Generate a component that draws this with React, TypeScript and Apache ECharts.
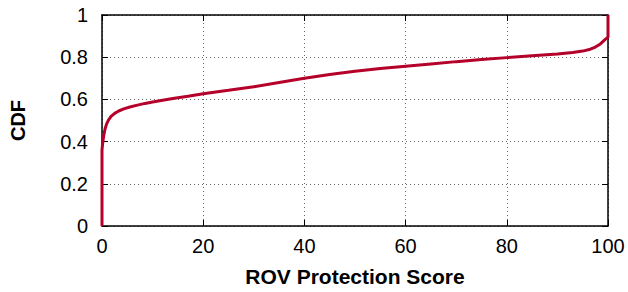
import React, { useEffect, useRef } from "react";
import * as echarts from "echarts";

const scores = [0, 0, 0.1, 0.2, 0.35, 0.6, 0.9, 1.3, 1.8, 2.5, 3.3, 4.3, 5.5, 7, 8.5, 10, 12, 14, 17, 20, 25, 30, 35, 40, 45, 50, 55, 60, 65, 70, 75, 80, 85, 90, 93, 95, 96.5, 97.5, 98.5, 99.4, 100, 100];
const cdf = [0, 0.36, 0.385, 0.405, 0.43, 0.46, 0.483, 0.503, 0.52, 0.534, 0.545, 0.555, 0.564, 0.573, 0.581, 0.588, 0.596, 0.604, 0.615, 0.627, 0.643, 0.66, 0.68, 0.7, 0.718, 0.733, 0.746, 0.757, 0.768, 0.779, 0.789, 0.798, 0.807, 0.815, 0.822, 0.829, 0.838, 0.848, 0.863, 0.883, 0.895, 1];
const xTicks = [0, 20, 40, 60, 80, 100];
const yTicks = [0, 0.2, 0.4, 0.6, 0.8, 1];

export default function App() {
  const ref = useRef<HTMLDivElement>(null);
  useEffect(() => {
    if (!ref.current) return;
    const chart = echarts.init(ref.current, null, { renderer: "svg" });
    const font = "'Liberation Sans', Arial, Helvetica, sans-serif";
    const gridLine = { show: true, lineStyle: { color: "#666", width: 1, type: [1, 3] as any } };
    const axisLine = { show: true, onZero: false, lineStyle: { color: "#000", width: 1.5 } };
    const tick = { show: true, inside: true, length: 6, lineStyle: { color: "#000", width: 1 } };
    chart.setOption({
      animation: false,
      grid: { left: 102, right: 20, top: 15, bottom: 64 },
      xAxis: [
        {
          type: "value",
          min: xTicks[0],
          max: xTicks[xTicks.length - 1],
          interval: 20,
          axisLine,
          axisTick: tick,
          splitLine: gridLine,
          axisLabel: { color: "#000", fontSize: 20, fontFamily: font, margin: 10 },
          name: "ROV Protection Score",
          nameLocation: "middle",
          nameGap: 40,
          nameTextStyle: { color: "#000", fontSize: 21, fontWeight: "bold", fontFamily: font },
        },
        {
          type: "value",
          position: "top",
          min: xTicks[0],
          max: xTicks[xTicks.length - 1],
          interval: 20,
          axisLine,
          axisTick: tick,
          splitLine: { show: false },
          axisLabel: { show: false },
        },
      ],
      yAxis: [
        {
          type: "value",
          min: yTicks[0],
          max: yTicks[yTicks.length - 1],
          interval: 0.2,
          axisLine,
          axisTick: tick,
          splitLine: gridLine,
          axisLabel: { color: "#000", fontSize: 20, fontFamily: font, margin: 14 },
          name: "CDF",
          nameLocation: "middle",
          nameGap: 74,
          nameTextStyle: { color: "#000", fontSize: 20, fontWeight: "bold", fontFamily: font },
        },
        {
          type: "value",
          position: "right",
          min: yTicks[0],
          max: yTicks[yTicks.length - 1],
          interval: 0.2,
          axisLine,
          axisTick: tick,
          splitLine: { show: false },
          axisLabel: { show: false },
        },
      ],
      series: [
        {
          type: "line",
          data: scores.map((s, i) => [s, cdf[i]]),
          showSymbol: false,
          symbol: "none",
          lineStyle: { color: "#b5002a", width: 3 },
          z: 5,
        },
      ],
    });
    return () => chart.dispose();
  }, []);
  return <div ref={ref} style={{ width: 628, height: 292, position: "absolute", left: 0, top: 0 }} />;
}
